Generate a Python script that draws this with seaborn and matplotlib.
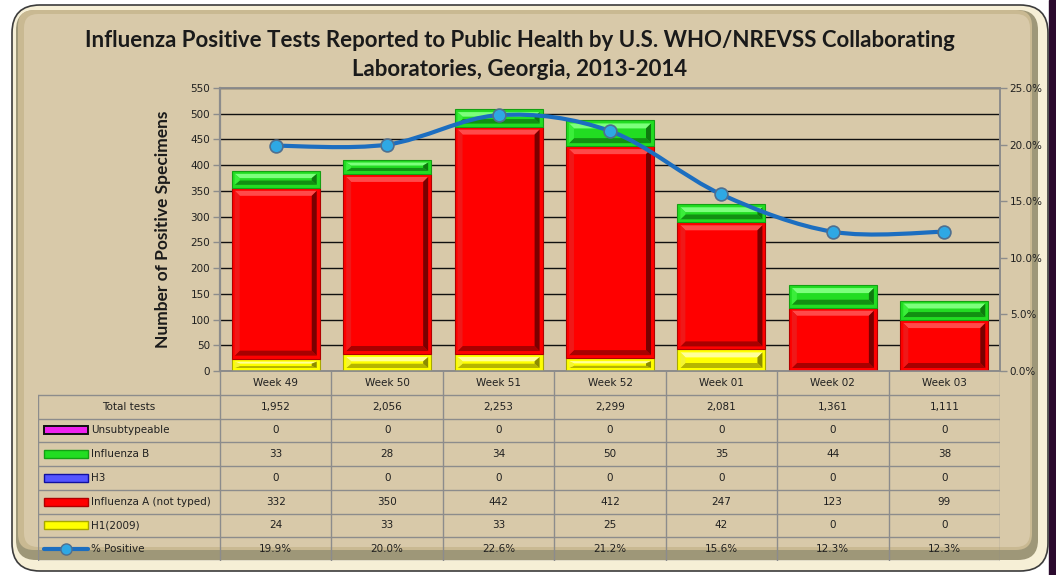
import numpy as np
import matplotlib
matplotlib.use("Agg")
import matplotlib.pyplot as plt
import seaborn as sns
from matplotlib.patches import Rectangle, FancyBboxPatch, Polygon, PathPatch
from matplotlib.path import Path
from matplotlib.lines import Line2D

# ---- data ----
weeks = ["Week 49", "Week 50", "Week 51", "Week 52", "Week 01", "Week 02", "Week 03"]
total_tests = [1952, 2056, 2253, 2299, 2081, 1361, 1111]
unsubtypeable = [0, 0, 0, 0, 0, 0, 0]
influenza_b = [33, 28, 34, 50, 35, 44, 38]
h3 = [0, 0, 0, 0, 0, 0, 0]
influenza_a = [332, 350, 442, 412, 247, 123, 99]
h1_2009 = [24, 33, 33, 25, 42, 0, 0]
pct_positive = [19.9, 20.0, 22.6, 21.2, 15.6, 12.3, 12.3]

TITLE = ("Influenza Positive Tests Reported to Public Health by U.S. WHO/NREVSS Collaborating\n"
         "Laboratories, Georgia, 2013-2014")

W, H = 1056, 575
TAN = "#D8C9A9"
GRID_GRAY = "#8C8C8C"
NARROW = ["Lato", "DejaVu Sans"]

PAL = {
    "yellow": dict(face="#FFFF00", edge="#A8A800", top="#FFFF9A", left="#F4F430", right="#8C8C00", bottom="#B5B500"),
    "red": dict(face="#FF0000", edge="#B00000", top="#FF4A4A", left="#F01818", right="#7A0000", bottom="#A80000"),
    "blue": dict(face="#5555FF", edge="#1010A0", top="#9A9AFF", left="#6A6AFF", right="#101080", bottom="#2020A0"),
    "green": dict(face="#22DD22", edge="#14A014", top="#7CFF7C", left="#3AEE3A", right="#0E7A0E", bottom="#129012"),
    "magenta": dict(face="#EE22EE", edge="#101010", top="#FF8AFF", left="#F040F0", right="#800080", bottom="#A000A0"),
}

# bottom -> top stacking order
stack = [
    ("H1(2009)", h1_2009, "yellow"),
    ("Influenza A (not typed)", influenza_a, "red"),
    ("H3", h3, "blue"),
    ("Influenza B", influenza_b, "green"),
    ("Unsubtypeable", unsubtypeable, "magenta"),
]

sns.set_theme(style="white")
plt.rcParams["font.family"] = ["DejaVu Sans"]

fig = plt.figure(figsize=(W / 100, H / 100), dpi=100)
fig.patch.set_facecolor("white")

# ---- background frame (pixel coords) ----
bg = fig.add_axes([0, 0, 1, 1], zorder=-10)
bg.set_xlim(0, W)
bg.set_ylim(H, 0)
bg.axis("off")
bg.add_patch(Rectangle((1049, 0), 7, H, color="#2B0B2E"))
bg.add_patch(FancyBboxPatch((40, 33), 980, 510, boxstyle="round,pad=28,rounding_size=28",
                            fc="#F6EFD6", ec="#3C3C3C", lw=1.2))
bg.add_patch(FancyBboxPatch((36, 30), 982, 510, boxstyle="round,pad=20,rounding_size=20",
                            fc="#9E9778", ec="none"))
bg.add_patch(FancyBboxPatch((34, 26), 982, 508, boxstyle="round,pad=16,rounding_size=16",
                            fc="#C9B992", ec="none"))
bg.add_patch(FancyBboxPatch((38, 28), 978, 505, boxstyle="round,pad=14,rounding_size=14",
                            fc=TAN, ec="none"))

fig.text(520 / W, 1 - 55 / H, TITLE, ha="center", va="center", fontsize=16,
         fontweight="bold", family=NARROW, color="#1A1A1A", linespacing=1.45)

# ---- main chart ----
AX_L, AX_R, AX_T, AX_B = 220, 1000, 88, 371
ax = fig.add_axes([AX_L / W, 1 - AX_B / H, (AX_R - AX_L) / W, (AX_B - AX_T) / H])
ax.set_facecolor("none")

BAR_W = 0.79
YMAX = 550
ux = 7 / (AX_R - AX_L)          # x data units per pixel
uy = YMAX / (AX_B - AX_T)       # y data units per pixel


def bevel(ax, xc, y0, h, pal):
    """Draw the raised-bevel look inside one bar segment."""
    hp = h / uy
    x0, x1 = xc - BAR_W / 2, xc + BAR_W / 2
    y1 = y0 + h
    m = min(3.0, hp / 2 - 1)
    b = max(min(5.0, hp / 2 - m - 1.2), 0.8)
    ox0, ox1 = x0 + 3 * ux, x1 - 3 * ux
    oy0, oy1 = y0 + m * uy, y1 - m * uy
    ix0, ix1 = ox0 + 5 * ux, ox1 - 5 * ux
    iy0, iy1 = oy0 + b * uy, oy1 - b * uy
    if iy1 < iy0:
        iy0 = iy1 = (oy0 + oy1) / 2
    bands = [
        ([(ox0, oy1), (ox1, oy1), (ix1, iy1), (ix0, iy1)], pal["top"]),
        ([(ox0, oy0), (ox1, oy0), (ix1, iy0), (ix0, iy0)], pal["bottom"]),
        ([(ox0, oy0), (ox0, oy1), (ix0, iy1), (ix0, iy0)], pal["left"]),
        ([(ox1, oy0), (ox1, oy1), (ix1, iy1), (ix1, iy0)], pal["right"]),
    ]
    for pts, c in bands:
        ax.add_patch(Polygon(pts, closed=True, fc=c, ec="none", zorder=4))


bottom = np.zeros(len(weeks))
for name, vals, key in stack:
    vals = np.array(vals, dtype=float)
    pal = PAL[key]
    if vals.any():
        sns.barplot(x=weeks, y=vals, bottom=bottom.copy(), order=weeks, color=pal["face"],
                    saturation=1, width=BAR_W, edgecolor=pal["edge"], linewidth=0.8,
                    errorbar=None, ax=ax, zorder=3)
        for i, v in enumerate(vals):
            if v > 0:
                bevel(ax, i, bottom[i], v, pal)
    bottom += vals

ax.set_xlim(-0.5, len(weeks) - 0.5)
ax.set_ylim(0, YMAX)
ax.set_yticks(np.arange(0, YMAX + 1, 50))
ax.set_xticks(np.arange(len(weeks)))
ax.set_xticklabels([])
ax.set_xlabel("")
ax.tick_params(axis="x", length=0)
ax.tick_params(axis="y", direction="out", length=5, width=1, color=GRID_GRAY,
               labelsize=7.5, labelcolor="#202020", pad=2)
ax.yaxis.grid(True, color="#101010", lw=1)
ax.set_axisbelow(True)
for s in ax.spines.values():
    s.set_color(GRID_GRAY)
    s.set_linewidth(1.2)
ax.spines["left"].set_linewidth(1.6)
ax.set_ylabel("Number of Positive Specimens", fontsize=12.5, fontweight="bold",
              family=NARROW, color="#1A1A1A", labelpad=14)

# ---- % positive on right axis ----
ax2 = ax.twinx()
ax2.set_ylim(0, 25)
ax2.set_yticks(np.arange(0, 26, 5))
ax2.set_yticklabels([f"{v:.1f}%" for v in np.arange(0, 26, 5)])
ax2.tick_params(axis="y", direction="out", length=5, width=1, color=GRID_GRAY,
                labelsize=7.5, labelcolor="#202020", pad=2)
ax2.grid(False)
for s in ax2.spines.values():
    s.set_color(GRID_GRAY)
    s.set_linewidth(1.2)

LINE_C = "#1C6EC0"
xs = np.arange(len(weeks), dtype=float)
ys = np.array(pct_positive, dtype=float)
P = np.column_stack([xs, ys])
Pp = np.vstack([P[0], P, P[-1]])
verts, codes = [tuple(P[0])], [Path.MOVETO]
for i in range(len(P) - 1):
    p0, p1, p2, p3 = Pp[i], Pp[i + 1], Pp[i + 2], Pp[i + 3]
    c1 = p1 + (p2 - p0) / 6
    c2 = p2 - (p3 - p1) / 6
    verts += [tuple(c1), tuple(c2), tuple(p2)]
    codes += [Path.CURVE4] * 3
ax2.add_patch(PathPatch(Path(verts, codes), fill=False, ec=LINE_C, lw=3, zorder=5,
                        capstyle="round"))
sns.scatterplot(x=xs, y=ys, ax=ax2, s=85, color="#2EA8E4", edgecolor="#4F6F8F",
                linewidth=1.2, zorder=6, legend=False)
ax2.set_xlim(-0.5, len(weeks) - 0.5)

# ---- data table ----
LABEL_W = 182 / ((AX_R - AX_L) / 7)
TB = 561
tab = fig.add_axes([38 / W, 1 - TB / H, (AX_R - 38) / W, (TB - AX_B) / H])
tab.set_facecolor("none")
n_rows = 7
tab.set_xlim(-0.5 - LABEL_W, len(weeks) - 0.5)
tab.set_ylim(n_rows + 1, 0)
tab.axis("off")
ru = (n_rows + 1) / (TB - AX_B)   # row units per pixel
px = 1 / ((AX_R - AX_L) / 7)      # x units per pixel
left_edge = -0.5 - LABEL_W

for r in range(1, n_rows + 2):
    tab.plot([left_edge, len(weeks) - 0.5], [r, r], color=GRID_GRAY, lw=1)
for c in range(len(weeks) + 1):
    tab.plot([c - 0.5, c - 0.5], [0, n_rows + 1], color=GRID_GRAY, lw=1)
tab.plot([left_edge, left_edge], [1, n_rows + 1], color=GRID_GRAY, lw=1)

for i, wk in enumerate(weeks):
    tab.text(i, 0.5, wk, ha="center", va="center", fontsize=7.5, color="#202020")

row_labels = ["Total tests", "Unsubtypeable", "Influenza B", "H3",
              "Influenza A (not typed)", "H1(2009)", "% Positive"]
row_values = [
    [f"{v:,}" for v in total_tests],
    [str(v) for v in unsubtypeable],
    [str(v) for v in influenza_b],
    [str(v) for v in h3],
    [str(v) for v in influenza_a],
    [str(v) for v in h1_2009],
    [f"{v:.1f}%" for v in pct_positive],
]
swatch_keys = [None, "magenta", "green", "blue", "red", "yellow", "line"]

sw_x0 = left_edge + 6 * px
sw_w = 44 * px
sw_h = 8 * ru
for r, (lab, vals, key) in enumerate(zip(row_labels, row_values, swatch_keys), start=1):
    yc = r + 0.5
    if key is None:
        tab.text(left_edge + LABEL_W / 2, yc, lab, ha="center", va="center",
                 fontsize=7.5, color="#202020")
    else:
        if key == "line":
            tab.add_line(Line2D([sw_x0, sw_x0 + sw_w], [yc, yc], color=LINE_C, lw=3))
            tab.plot([sw_x0 + sw_w / 2], [yc], marker="o", ms=8, mfc="#2EA8E4",
                     mec="#4F6F8F", mew=1)
        else:
            pal = PAL[key]
            ec = "#101010" if key == "magenta" else pal["edge"]
            tab.add_patch(Rectangle((sw_x0, yc - sw_h / 2), sw_w, sw_h, fc=pal["face"],
                                    ec=ec, lw=1.4 if key == "magenta" else 1))
        tab.text(sw_x0 + sw_w + 3 * px, yc, lab, ha="left", va="center",
                 fontsize=7.5, color="#202020")
    for i, v in enumerate(vals):
        tab.text(i, yc, v, ha="center", va="center", fontsize=7.5, color="#202020")

fig.savefig("out.png", dpi=100, facecolor=fig.get_facecolor())
